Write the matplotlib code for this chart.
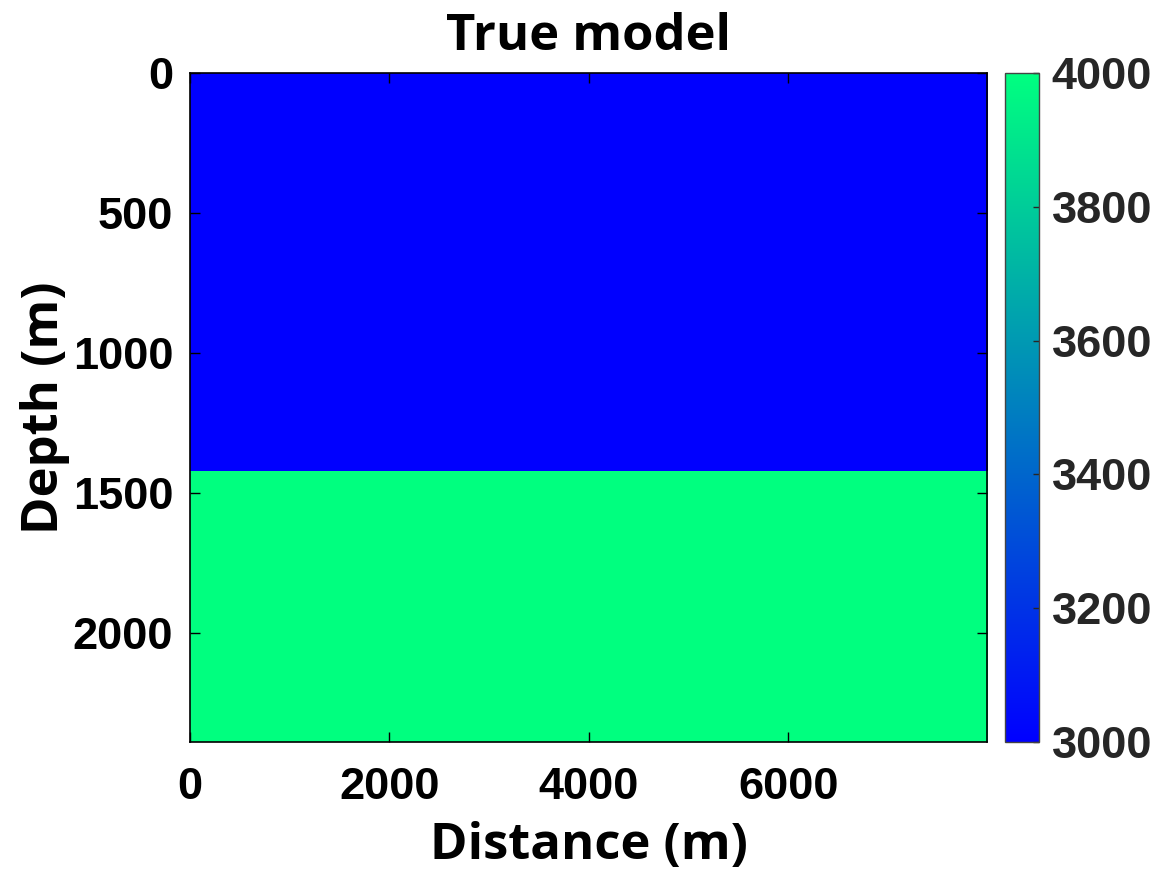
import numpy as np
import matplotlib.pyplot as plt
from matplotlib.colors import LinearSegmentedColormap

# two-layer velocity model
layer_velocity = [3000, 4000]      # m/s
interface_depth = 1430             # m
dx = 10
nx, nz = 800, 240

x = np.arange(nx) * dx
z = np.arange(nz) * dx
vel = np.where(z[:, None] < interface_depth, layer_velocity[0], layer_velocity[1]) * np.ones((1, nx))

x_ticks = [0, 2000, 4000, 6000]
z_ticks = [0, 500, 1000, 1500, 2000]
cb_ticks = [3000, 3200, 3400, 3600, 3800, 4000]

# MATLAB "winter"
winter = LinearSegmentedColormap.from_list('winter_m', [(0, 0, 1), (0, 1, 0.5)])

tick_font = {'family': 'Liberation Sans', 'weight': 'bold', 'size': 32.5}
label_font = {'family': 'Open Sans', 'weight': 'bold', 'size': 36.5}

fig = plt.figure(figsize=(11.54, 8.73), dpi=100)
ax = fig.add_axes([0.1646, 0.150, 0.6907, 0.7664])
im = ax.imshow(vel, cmap=winter, vmin=3000, vmax=4000, aspect='auto',
               extent=[x[0], x[-1], z[-1], z[0]], interpolation='nearest')

ax.set_xticks(x_ticks)
ax.set_yticks(z_ticks)
ax.set_xticklabels([str(t) for t in x_ticks], fontdict=tick_font)
ax.set_yticklabels([str(t) for t in z_ticks], fontdict=tick_font)
ax.tick_params(direction='in', length=7, width=1, top=True, right=True)
ax.tick_params(axis='x', pad=18)
ax.tick_params(axis='y', pad=12)
for s in ax.spines.values():
    s.set_linewidth(1.2)

ax.set_xlabel('Distance (m)', fontdict=label_font, labelpad=9)
ax.set_ylabel('Depth (m)', fontdict=label_font, labelpad=2)
ax.set_title('True model', fontdict=label_font, pad=16.5)

cax = fig.add_axes([0.8709, 0.150, 0.0295, 0.7664])
cb = fig.colorbar(im, cax=cax, ticks=cb_ticks)
cb.outline.set_linewidth(1.0)
cb.outline.set_edgecolor('#444444')
cax.tick_params(direction='in', length=4, width=1, pad=9, colors='#262626')
cax.set_yticklabels([str(t) for t in cb_ticks], fontdict=tick_font)

fig.savefig('out.png', dpi=100)
